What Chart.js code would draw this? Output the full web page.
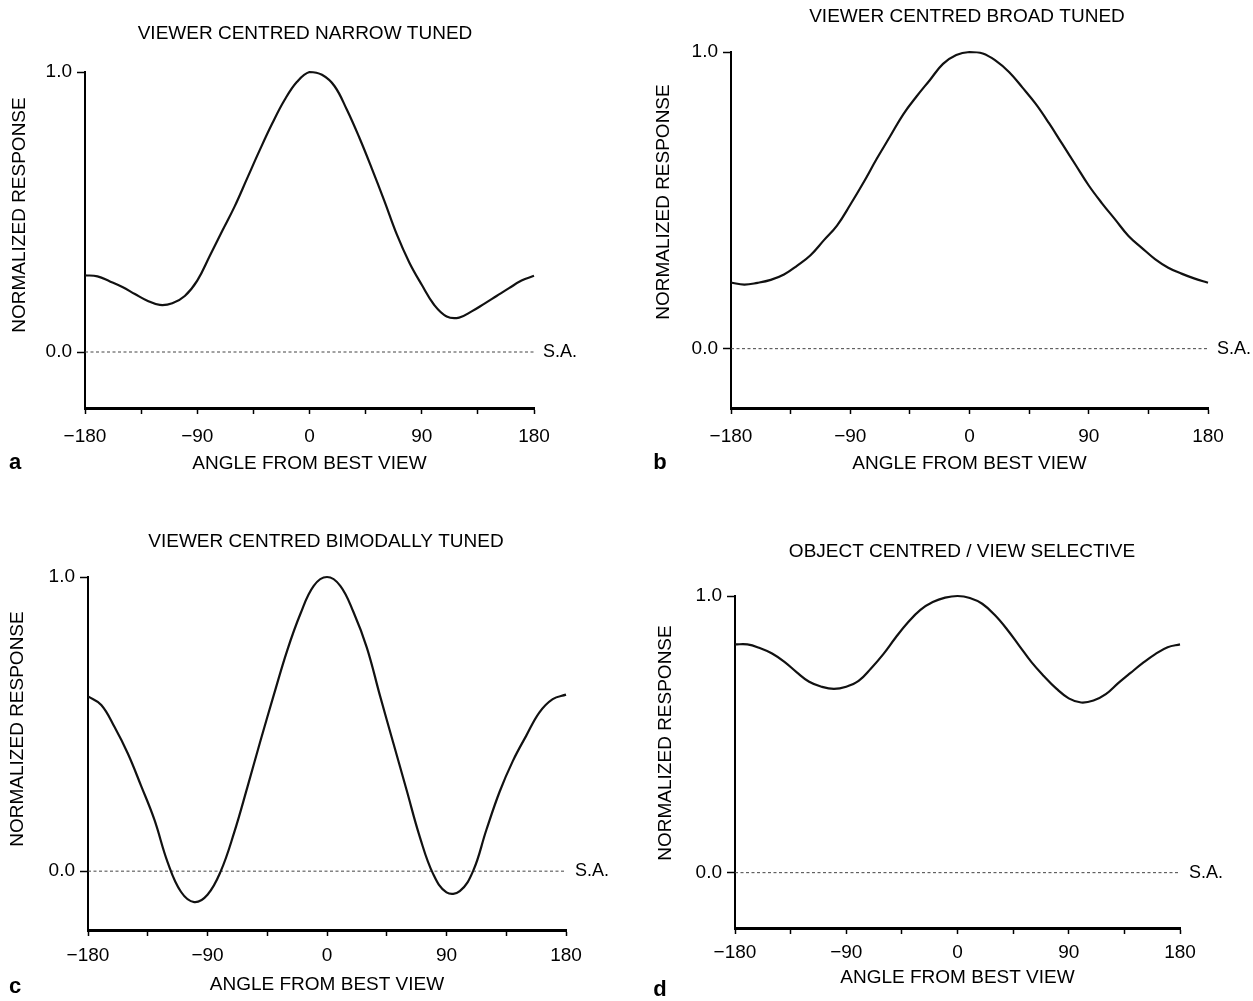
<!DOCTYPE html>
<html>
<head>
<meta charset="utf-8">
<title>View tuning curves</title>
<script src="https://cdn.jsdelivr.net/npm/chart.js@4.4.1/dist/chart.umd.min.js"></script>
<style>
  html, body { margin: 0; padding: 0; background: #fff; }
  #page { position: relative; width: 1253px; height: 1001px; overflow: hidden; }
  #page canvas { position: absolute; }
</style>
</head>
<body>
<div id="page"></div>
<script>
// angle from the best view (deg)
const angles = [-180, -170, -160, -150, -140, -130, -120, -110, -100, -90, -80, -70, -60, -50, -40, -30, -20, -10,
  0, 10, 20, 30, 40, 50, 60, 70, 80, 90, 100, 110, 120, 130, 140, 150, 160, 170, 180];

// normalized responses, one value per angle
const narrowTuned = [0.274, 0.27, 0.252, 0.232, 0.207, 0.183, 0.168, 0.174, 0.2, 0.255, 0.343, 0.432, 0.52, 0.62, 0.72, 0.815, 0.9, 0.965,
  1.0, 0.99, 0.95, 0.865, 0.765, 0.655, 0.54, 0.42, 0.32, 0.24, 0.168, 0.127, 0.123, 0.145, 0.172, 0.2, 0.228, 0.255, 0.272];
const broadTuned = [0.223, 0.216, 0.222, 0.232, 0.25, 0.28, 0.315, 0.365, 0.415, 0.485, 0.56, 0.64, 0.715, 0.79, 0.85, 0.905, 0.96, 0.99,
  1.0, 0.995, 0.97, 0.932, 0.88, 0.825, 0.76, 0.69, 0.62, 0.55, 0.49, 0.435, 0.38, 0.34, 0.302, 0.273, 0.253, 0.236, 0.222];
const bimodalTuned = [0.594, 0.565, 0.49, 0.4, 0.29, 0.175, 0.03, -0.07, -0.105, -0.08, 0.0, 0.13, 0.285, 0.445, 0.6, 0.75, 0.875, 0.97,
  1.0, 0.97, 0.88, 0.76, 0.595, 0.435, 0.275, 0.115, -0.01, -0.072, -0.068, 0.0, 0.14, 0.27, 0.375, 0.46, 0.54, 0.585, 0.6];
const objectCentred = [0.825, 0.825, 0.812, 0.792, 0.762, 0.724, 0.69, 0.672, 0.664, 0.672, 0.693, 0.738, 0.79, 0.85, 0.905, 0.95, 0.978, 0.994,
  1.0, 0.993, 0.972, 0.932, 0.88, 0.82, 0.76, 0.71, 0.665, 0.63, 0.615, 0.622, 0.645, 0.685, 0.722, 0.758, 0.79, 0.815, 0.825];

// spontaneous activity level, at both ends of the angle range
const spontaneous = [0.0, 0.0];

const angleTicks = [-180, -135, -90, -45, 0, 45, 90, 135, 180];
const responseTicks = [0.0, 1.0];

const FONT = '"Liberation Sans", Arial, Helvetica, sans-serif';
const INK = '#000';
const X_AXIS_H = 80;
const LABEL_SIZE = 19;

// page boxes for the four canvases and where each plot area sits
const panels = [
  { letter: 'a', title: 'VIEWER CENTRED NARROW TUNED', values: narrowTuned,
    box: { x: 0, y: 0, w: 626, h: 500 }, area: { l: 85, t: 72, r: 534, b: 408 },
    titlePos: { x: 305, y: 34 }, yTitlePos: { x: 20, y: 215 }, letterPos: { x: 15, y: 463 },
    tickPad: 11, xTitleOff: 56 },
  { letter: 'b', title: 'VIEWER CENTRED BROAD TUNED', values: broadTuned,
    box: { x: 626, y: 0, w: 627, h: 500 }, area: { l: 731, t: 52, r: 1208, b: 408 },
    titlePos: { x: 967, y: 17 }, yTitlePos: { x: 664, y: 202 }, letterPos: { x: 660, y: 463 },
    tickPad: 11, xTitleOff: 56 },
  { letter: 'c', title: 'VIEWER CENTRED BIMODALLY TUNED', values: bimodalTuned,
    box: { x: 0, y: 500, w: 626, h: 501 }, area: { l: 88, t: 577, r: 566, b: 930 },
    titlePos: { x: 326, y: 542 }, yTitlePos: { x: 18, y: 729 }, letterPos: { x: 15, y: 987 },
    tickPad: 8, xTitleOff: 55 },
  { letter: 'd', title: 'OBJECT CENTRED / VIEW SELECTIVE', values: objectCentred,
    box: { x: 626, y: 500, w: 627, h: 501 }, area: { l: 735, t: 596, r: 1180, b: 928 },
    titlePos: { x: 962, y: 552 }, yTitlePos: { x: 666, y: 743 }, letterPos: { x: 660, y: 990 },
    tickPad: 7, xTitleOff: 50 },
];

function textPlugin(p) {
  return {
    id: 'panelText',
    afterDraw(chart) {
      const ctx = chart.ctx;
      const ox = p.box.x, oy = p.box.y;
      ctx.save();
      ctx.fillStyle = INK;
      ctx.textBaseline = 'middle';

      ctx.font = `${LABEL_SIZE}px ${FONT}`;
      ctx.textAlign = 'center';
      ctx.fillText(p.title, p.titlePos.x - ox, p.titlePos.y - oy);

      ctx.save();
      ctx.translate(p.yTitlePos.x - ox, p.yTitlePos.y - oy);
      ctx.rotate(-Math.PI / 2);
      ctx.fillText('NORMALIZED RESPONSE', 0, 0);
      ctx.restore();

      ctx.font = `18px ${FONT}`;
      ctx.textAlign = 'left';
      const y0 = chart.scales.y.getPixelForValue(spontaneous[1]);
      ctx.fillText('S.A.', chart.chartArea.right + 9, y0);

      ctx.font = `bold 22px ${FONT}`;
      ctx.textAlign = 'center';
      ctx.fillText(p.letter, p.letterPos.x - ox, p.letterPos.y - oy);
      ctx.restore();
    }
  };
}

function makePanel(p) {
  const canvas = document.createElement('canvas');
  canvas.width = p.box.w;
  canvas.height = p.box.h;
  canvas.style.left = p.box.x + 'px';
  canvas.style.top = p.box.y + 'px';
  document.getElementById('page').appendChild(canvas);

  const yAxisW = p.area.l - p.box.x;
  const padding = {
    left: 0,
    top: p.area.t - p.box.y,
    right: p.box.x + p.box.w - p.area.r,
    bottom: p.box.y + p.box.h - p.area.b - X_AXIS_H,
  };
  const half = LABEL_SIZE * 1.2 / 2;

  new Chart(canvas, {
    type: 'line',
    data: {
      datasets: [
        {
          data: angles.map((a, i) => ({ x: a, y: p.values[i] })),
          borderColor: '#111',
          borderWidth: 2.2,
          pointRadius: 0,
          tension: 0.4,
          clip: false,
        },
        {
          data: [
            { x: angles[0], y: spontaneous[0] },
            { x: angles[angles.length - 1], y: spontaneous[1] },
          ],
          borderColor: '#444',
          borderWidth: 1,
          borderDash: [3, 2.5],
          pointRadius: 0,
        },
      ],
    },
    options: {
      responsive: false,
      devicePixelRatio: 1,
      animation: false,
      layout: { padding },
      plugins: { legend: { display: false }, tooltip: { enabled: false } },
      scales: {
        x: {
          type: 'linear',
          min: -180,
          max: 180,
          afterBuildTicks: (s) => { s.ticks = angleTicks.map((v) => ({ value: v })); },
          afterFit: (s) => { s.height = X_AXIS_H; },
          ticks: {
            autoSkip: false,
            maxRotation: 0,
            padding: p.tickPad,
            color: INK,
            font: { family: FONT, size: LABEL_SIZE },
            callback: (v) => (v % 90 === 0 ? String(v).replace('-', '\u2212') : ''),
          },
          grid: { drawOnChartArea: false, drawTicks: true, tickLength: 6, tickWidth: 1.5, tickColor: INK },
          border: { display: true, color: INK, width: 3 },
          title: {
            display: true,
            text: 'ANGLE FROM BEST VIEW',
            color: INK,
            font: { family: FONT, size: LABEL_SIZE },
            padding: { top: 0, bottom: X_AXIS_H - p.xTitleOff - half },
          },
        },
        y: {
          type: 'linear',
          min: -0.2,
          max: 1.0,
          afterBuildTicks: (s) => { s.ticks = responseTicks.map((v) => ({ value: v })); },
          afterFit: (s) => { s.width = yAxisW; },
          ticks: {
            padding: 5,
            color: INK,
            font: { family: FONT, size: LABEL_SIZE },
            callback: (v) => v.toFixed(1),
          },
          grid: { drawOnChartArea: false, drawTicks: true, tickLength: 8, tickWidth: 1.5, tickColor: INK },
          border: { display: true, color: INK, width: 2 },
        },
      },
    },
    plugins: [textPlugin(p)],
  });
}

panels.forEach(makePanel);
</script>
</body>
</html>
